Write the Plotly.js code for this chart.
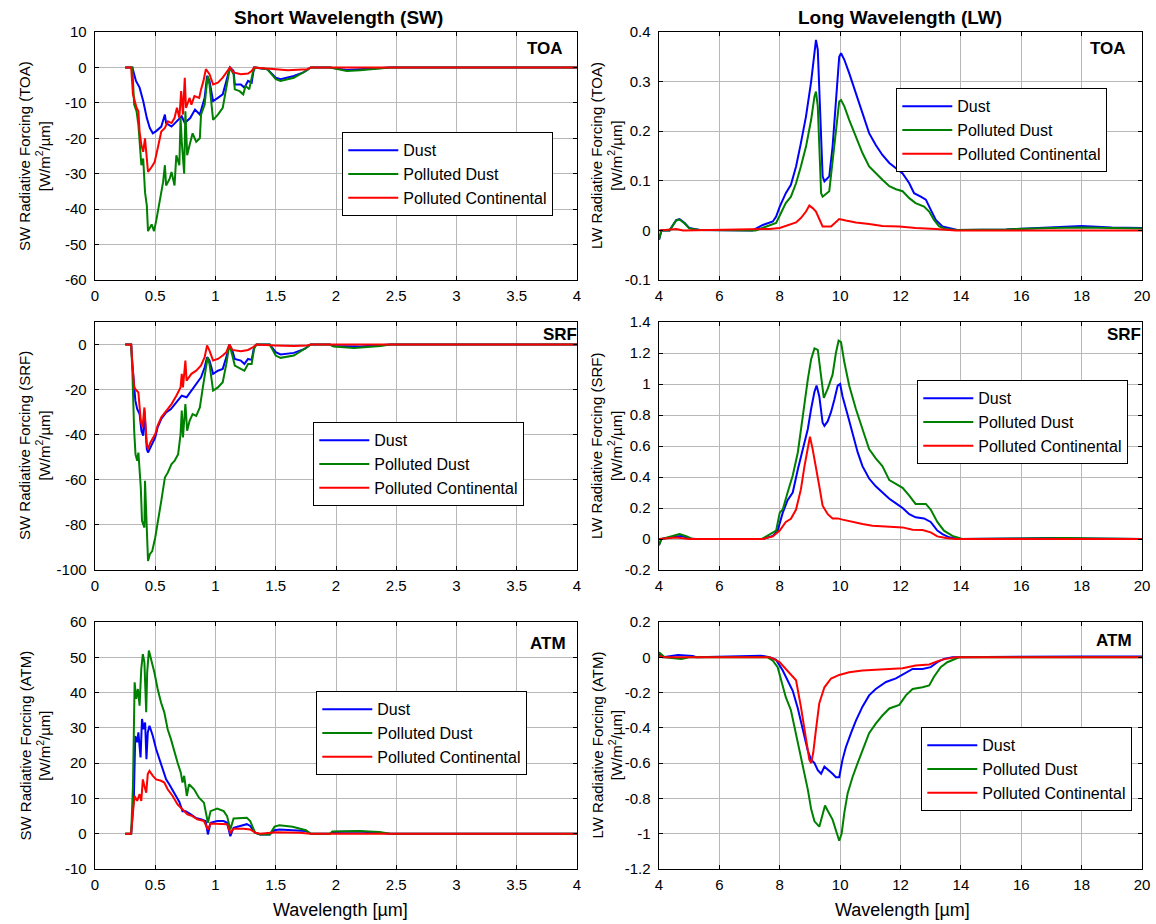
<!DOCTYPE html>
<html><head><meta charset="utf-8">
<script src="https://cdn.plot.ly/plotly-3.0.1.min.js"></script>
<style>html,body{margin:0;padding:0;background:#fff}#chart{width:1156px;height:924px}</style>
</head><body><div id="chart"></div>
<script>
// ---------- series names ----------
const seriesNames = ['Dust', 'Polluted Dust', 'Polluted Continental'];

// ---------- SW TOA ----------
const swToaDustX = [0.25,0.31,0.34,0.37,0.40,0.43,0.455,0.48,0.51,0.55,0.58,0.59,0.635,0.68,0.72,0.745,0.79,0.83,0.87,0.91,0.93,0.95,0.98,1.02,1.06,1.09,1.12,1.15,1.16,1.21,1.24,1.27,1.30,1.32,1.43,1.50,1.54,1.65,1.73,1.79,1.95,2.09,2.37,2.45,4.0];
const swToaDustY = [0,0,-3.8,-5.7,-9.5,-14.3,-17.1,-18.6,-17.9,-16.7,-13.3,-15.7,-16.7,-15.2,-13.8,-15.7,-14.3,-11.9,-13.3,-8.6,-2.4,-3.8,-9.5,-8.6,-7.6,-3.8,0,-1,-4.8,-4.8,-5.7,-3.8,-4.3,0,-0.5,-2.9,-3.3,-2.4,-1.4,0,0,-0.7,-0.2,0,0];
const swToaPdX = [0.25,0.31,0.325,0.345,0.36,0.37,0.385,0.40,0.415,0.43,0.44,0.47,0.49,0.51,0.54,0.565,0.58,0.59,0.62,0.635,0.66,0.675,0.70,0.71,0.72,0.74,0.75,0.765,0.785,0.81,0.84,0.87,0.88,0.91,0.935,0.95,0.98,1.02,1.06,1.09,1.12,1.15,1.16,1.20,1.23,1.25,1.28,1.31,1.33,1.43,1.50,1.54,1.65,1.76,1.79,1.95,2.09,2.2,2.37,2.45,4.0];
const swToaPdY = [0,0,-10.5,-12.4,-16.2,-21,-27.6,-25.7,-35.2,-39,-46.2,-44.3,-46.2,-42.9,-37.1,-32.4,-27.6,-33.3,-31.4,-29.5,-33.3,-24.8,-27.6,-14.3,-21,-30,-12.4,-24.8,-21.9,-18.6,-21,-20,-13.3,-10.5,-2.4,-4.8,-14.8,-13.3,-11.4,-5.7,0,-1.9,-6.2,-6.7,-7.6,-5.2,-6.2,-1.4,0,-0.5,-3.3,-3.8,-2.9,-0.8,0,0,-1,-0.8,-0.3,0,0];
const swToaPcX = [0.25,0.30,0.315,0.33,0.345,0.36,0.37,0.385,0.40,0.415,0.43,0.44,0.47,0.495,0.52,0.55,0.58,0.605,0.635,0.66,0.68,0.70,0.715,0.73,0.745,0.755,0.785,0.80,0.825,0.865,0.88,0.90,0.92,0.95,0.98,1.02,1.06,1.09,1.12,1.15,1.21,1.27,1.30,1.32,1.48,1.6,1.76,1.79,4.0];
const swToaPcY = [0,0,-7.6,-10,-11.4,-12.4,-18.1,-21.9,-23.8,-20,-27.1,-29.5,-28.1,-26.7,-22.9,-18.1,-17.1,-15.2,-15.7,-14.3,-11.4,-14.3,-6.7,-13.3,-2.9,-11.4,-8.6,-10.5,-8.1,-8.6,-6.2,-3.8,-0.5,-1.9,-4.8,-4.3,-2.9,-1.4,0,-1.4,-1.9,-1.7,-1,0,-0.5,-0.8,-0.5,0,0];

// ---------- LW TOA ----------
const lwToaDustX = [4.0,4.08,4.35,4.57,4.68,4.85,5.0,5.35,7.1,7.44,7.77,7.88,8.0,8.2,8.37,8.54,8.7,8.87,9.04,9.15,9.2,9.26,9.31,9.42,9.48,9.64,9.75,9.86,9.97,10.03,10.14,10.3,10.52,10.74,10.96,11.18,11.4,11.63,11.85,12.07,12.29,12.45,12.67,12.84,13.0,13.17,13.39,13.61,13.88,15.5,16.5,17.5,18.0,19.0,20.0];
const lwToaDustY = [-0.019,0,0,0.021,0.023,0.015,0.005,0.001,0,0.011,0.018,0.028,0.048,0.075,0.092,0.129,0.176,0.23,0.30,0.364,0.384,0.364,0.283,0.109,0.099,0.109,0.169,0.256,0.35,0.357,0.344,0.317,0.277,0.236,0.196,0.172,0.152,0.136,0.125,0.115,0.095,0.075,0.068,0.062,0.042,0.021,0.008,0.005,0.001,0.002,0.005,0.008,0.009,0.006,0.005];
const lwToaPdX = [4.0,4.08,4.35,4.57,4.68,4.85,5.0,5.35,7.2,7.55,7.88,8.04,8.2,8.37,8.54,8.7,8.87,9.04,9.15,9.2,9.26,9.37,9.42,9.64,9.75,9.86,9.97,10.03,10.14,10.3,10.52,10.74,10.96,11.18,11.4,11.63,11.85,12.07,12.29,12.5,12.78,12.95,13.11,13.28,13.5,13.83,15.5,17.0,18.0,20.0];
const lwToaPdY = [-0.019,0,0,0.02,0.022,0.014,0.004,0.001,0,0.008,0.015,0.035,0.055,0.068,0.095,0.129,0.169,0.223,0.27,0.28,0.25,0.075,0.068,0.079,0.136,0.203,0.26,0.263,0.25,0.223,0.189,0.156,0.129,0.115,0.102,0.089,0.083,0.079,0.065,0.055,0.048,0.038,0.021,0.008,0.003,0.001,0.002,0.005,0.006,0.004];
const lwToaPcX = [4.0,4.57,4.8,7.66,8.0,8.32,8.54,8.7,8.87,8.98,9.09,9.2,9.31,9.42,9.7,9.86,9.97,10.19,10.52,10.96,11.4,11.96,12.5,13.17,13.83,20.0];
const lwToaPcY = [0,0.003,0,0.003,0.005,0.011,0.016,0.025,0.038,0.05,0.045,0.038,0.021,0.008,0.008,0.018,0.023,0.02,0.016,0.013,0.009,0.008,0.005,0.003,0,0];

// ---------- SW SRF ----------
const swSrfDustX = [0.25,0.30,0.31,0.325,0.335,0.35,0.37,0.385,0.40,0.41,0.43,0.44,0.47,0.50,0.52,0.55,0.59,0.63,0.675,0.72,0.76,0.80,0.84,0.88,0.91,0.93,0.95,0.98,1.02,1.06,1.09,1.115,1.14,1.16,1.21,1.24,1.27,1.30,1.32,1.34,1.45,1.50,1.54,1.65,1.74,1.79,1.95,1.98,2.2,2.37,2.45,4.0];
const swSrfDustY = [0,0,-8.6,-20.4,-24.9,-28.6,-30.8,-38.2,-40.4,-29.3,-46.4,-47.9,-44.9,-41.2,-36.7,-33,-30.1,-28.6,-25.6,-22.7,-23.4,-20.4,-17.5,-14.5,-10.1,-5.6,-7.1,-13,-11.6,-10.8,-5.6,0,-2.7,-6.4,-7.1,-8.6,-6.4,-6.8,-1.2,0,0,-3.4,-4.4,-3.7,-1.9,0,0,-0.6,-0.9,-0.4,0,0];
const swSrfPdX = [0.25,0.30,0.31,0.317,0.325,0.336,0.35,0.36,0.38,0.39,0.41,0.415,0.43,0.44,0.455,0.475,0.50,0.52,0.55,0.58,0.605,0.635,0.66,0.69,0.71,0.72,0.73,0.75,0.765,0.785,0.81,0.84,0.87,0.895,0.92,0.935,0.95,0.98,1.02,1.06,1.09,1.115,1.14,1.16,1.21,1.24,1.27,1.30,1.32,1.34,1.45,1.50,1.54,1.65,1.76,1.79,1.95,1.98,2.15,2.37,2.45,4.0];
const swSrfPdY = [0,0,-11.6,-26.4,-38.2,-48.6,-51.6,-47.9,-63.4,-78.2,-81.2,-60.4,-84.1,-96,-93,-91.6,-85.6,-78.2,-69.3,-59,-56.7,-53,-51.6,-48.6,-39.7,-29.3,-41.2,-26.4,-38.2,-33.8,-30.8,-31.6,-27.9,-19,-11.6,-5.6,-8.6,-20.4,-19,-16.7,-8.6,0,-4.9,-9.3,-10.8,-11.6,-8.6,-8.6,-1.9,0,0,-4.9,-5.9,-4.9,-1.2,0,0,-0.9,-1.5,-0.7,0,0];
const swSrfPcX = [0.25,0.30,0.31,0.325,0.345,0.36,0.38,0.394,0.41,0.43,0.44,0.46,0.50,0.52,0.55,0.59,0.635,0.675,0.71,0.72,0.73,0.75,0.76,0.80,0.84,0.88,0.91,0.93,0.95,0.98,1.02,1.06,1.09,1.115,1.14,1.21,1.27,1.31,1.34,1.49,1.65,1.76,1.79,4.0];
const swSrfPcY = [0,0,-8.6,-19,-20.4,-21.2,-33.8,-36.7,-27.9,-44.1,-46.4,-43.4,-39.7,-36,-32.3,-29.3,-26.4,-22.7,-19,-13,-19,-7.1,-16,-13,-11.6,-9.3,-5.6,-0.4,-2.7,-7.1,-6.4,-4.9,-3.4,0,-2.4,-3,-2.4,-1.2,0,-0.4,-0.7,-0.4,0,0];

// ---------- LW SRF ----------
const lwSrfDustX = [4.0,4.08,4.57,4.74,5.0,5.23,7.44,7.77,7.93,8.1,8.26,8.43,8.6,8.76,8.93,9.04,9.15,9.22,9.31,9.42,9.48,9.59,9.7,9.81,9.92,10.0,10.08,10.25,10.41,10.58,10.74,10.96,11.18,11.4,11.63,11.85,12.07,12.29,12.5,12.78,13.0,13.22,13.39,13.61,13.94,16.0,17.0,18.0,20.0];
const lwSrfDustY = [-0.04,0,0.017,0.02,0.004,0,0,0.02,0.054,0.17,0.25,0.30,0.45,0.58,0.71,0.84,0.95,0.99,0.92,0.75,0.73,0.76,0.82,0.90,0.99,1.0,0.92,0.80,0.68,0.56,0.47,0.39,0.34,0.30,0.26,0.23,0.20,0.16,0.14,0.133,0.11,0.054,0.032,0.011,0,0.004,0.006,0.003,0];
const lwSrfPdX = [4.0,4.08,4.57,4.68,4.9,5.1,7.4,7.66,7.88,8.0,8.1,8.26,8.43,8.6,8.76,8.93,9.04,9.15,9.26,9.37,9.46,9.59,9.75,9.86,9.95,10.03,10.14,10.3,10.52,10.74,10.96,11.18,11.4,11.63,11.85,12.07,12.29,12.5,12.84,13.0,13.22,13.44,13.72,14.05,16.0,17.5,18.5,20.0];
const lwSrfPdY = [-0.04,0,0.026,0.032,0.018,0,0,0.032,0.054,0.17,0.19,0.30,0.41,0.56,0.80,1.03,1.16,1.23,1.22,1.03,0.91,0.97,1.06,1.2,1.28,1.27,1.14,0.99,0.84,0.71,0.58,0.52,0.47,0.38,0.355,0.33,0.28,0.226,0.226,0.19,0.11,0.054,0.02,0,0.004,0.007,0.004,0];
const lwSrfPcX = [4.0,4.57,5.0,7.44,7.77,8.0,8.2,8.37,8.54,8.7,8.82,8.93,9.0,9.09,9.2,9.31,9.42,9.59,9.75,9.92,10.08,10.41,10.74,11.07,11.4,11.74,12.07,12.4,12.73,13.0,13.22,13.5,13.83,20.0];
const lwSrfPcY = [0,0.01,0,0,0.017,0.054,0.11,0.13,0.19,0.32,0.47,0.60,0.66,0.58,0.47,0.34,0.215,0.16,0.133,0.133,0.125,0.11,0.097,0.086,0.082,0.075,0.075,0.06,0.058,0.043,0.017,0.006,0,0];

// ---------- SW ATM ----------
const swAtmDustX = [0.25,0.30,0.323,0.334,0.35,0.36,0.378,0.39,0.405,0.416,0.427,0.438,0.452,0.48,0.507,0.534,0.56,0.59,0.616,0.658,0.70,0.726,0.753,0.795,0.836,0.877,0.918,0.937,0.959,1.014,1.068,1.096,1.123,1.15,1.205,1.26,1.288,1.329,1.37,1.45,1.49,1.53,1.64,1.75,1.79,1.95,1.97,2.19,2.36,2.45,4.0];
const swAtmDustY = [0,0,10.7,27.7,25.9,28.7,21.6,32.5,29.6,31.5,21.1,28.7,30.6,27.7,24,21.1,18.3,15.4,14,11.6,9,6.4,6.4,5.5,4.5,4.1,3.6,-0.2,3.1,3.6,3.6,3.1,-0.7,1.7,2.2,2.7,2.2,0.3,-0.2,-0.2,1.0,1.2,1.0,0.8,0,0,0.5,0.6,0.3,0,0];
const swAtmPdX = [0.25,0.30,0.315,0.329,0.342,0.356,0.37,0.384,0.397,0.41,0.425,0.433,0.447,0.466,0.493,0.52,0.548,0.575,0.603,0.63,0.658,0.685,0.712,0.726,0.74,0.762,0.78,0.822,0.863,0.904,0.937,0.959,1.014,1.068,1.096,1.123,1.15,1.205,1.26,1.288,1.329,1.37,1.45,1.49,1.53,1.64,1.75,1.79,1.95,1.97,2.19,2.36,2.45,4.0];
const swAtmPdY = [0,0,13.5,42.9,38.2,41,36.3,46.7,50.9,48.6,34.4,45.7,51.9,49.5,45.7,41,37.2,34.4,29.6,26.8,23,20.2,17.3,14.5,16.4,10.7,14,12.6,10.2,8.8,3.1,6.4,7.1,6.4,5,1.2,4.3,4.5,4.5,3.6,0.3,-0.2,-0.2,2.0,2.4,2.0,1.0,0,0,0.6,0.8,0.5,0,0];
const swAtmPcX = [0.25,0.30,0.32,0.329,0.35,0.37,0.384,0.397,0.41,0.425,0.438,0.452,0.48,0.507,0.548,0.575,0.603,0.644,0.685,0.726,0.767,0.808,0.849,0.904,0.937,0.959,1.04,1.096,1.123,1.15,1.233,1.288,1.329,1.37,1.5,1.7,1.79,4.0];
const swAtmPcY = [0,0,7.9,10.7,9.3,11.2,9.3,15.4,13.5,11.6,16.9,17.8,16.4,15.4,15,14.5,12.6,10.7,8.3,6.9,5.5,5,4.1,3.6,1.2,2.9,2.9,2.7,0.3,1.4,1.4,1.2,0.3,0,0.4,0.3,0,0];

// ---------- LW ATM ----------
const lwAtmDustX = [4.0,4.13,4.63,5.12,5.23,7.38,7.66,7.88,8.1,8.26,8.43,8.6,8.76,8.93,9.04,9.15,9.26,9.37,9.48,9.59,9.75,9.86,9.97,10.08,10.19,10.36,10.52,10.74,10.96,11.18,11.52,11.85,12.07,12.4,12.73,13.0,13.22,13.44,13.72,15.5,17.0,18.0,20.0];
const lwAtmDustY = [0.019,0,0.013,0.008,0,0.009,0,-0.015,-0.075,-0.13,-0.19,-0.29,-0.41,-0.53,-0.58,-0.60,-0.64,-0.66,-0.62,-0.635,-0.66,-0.68,-0.68,-0.58,-0.51,-0.43,-0.36,-0.28,-0.216,-0.18,-0.14,-0.12,-0.10,-0.066,-0.066,-0.056,-0.028,-0.009,0,0.003,0.006,0.005,0.004];
const lwAtmPdX = [4.0,4.19,4.74,5.0,7.6,7.77,7.93,8.04,8.2,8.37,8.48,8.65,8.76,8.93,9.04,9.15,9.31,9.42,9.5,9.59,9.75,9.86,9.97,10.05,10.14,10.25,10.41,10.58,10.74,10.96,11.18,11.4,11.63,11.96,12.18,12.4,12.73,12.95,13.11,13.33,13.55,13.83,13.94,20.0];
const lwAtmPdY = [0.028,0,-0.009,0,0,-0.019,-0.056,-0.13,-0.226,-0.30,-0.39,-0.51,-0.62,-0.75,-0.86,-0.93,-0.96,-0.88,-0.84,-0.87,-0.92,-0.98,-1.04,-1.0,-0.88,-0.77,-0.68,-0.60,-0.53,-0.43,-0.376,-0.33,-0.29,-0.27,-0.216,-0.18,-0.17,-0.16,-0.11,-0.056,-0.028,-0.009,0,0];
const lwAtmPcX = [4.0,4.13,7.66,7.77,8.0,8.15,8.37,8.54,8.7,8.87,8.98,9.04,9.11,9.2,9.31,9.48,9.7,9.97,10.3,10.74,11.18,11.63,12.07,12.5,12.95,13.28,13.5,13.83,20.0];
const lwAtmPcY = [0.009,0,0,-0.006,-0.028,-0.056,-0.10,-0.13,-0.28,-0.47,-0.58,-0.60,-0.54,-0.41,-0.26,-0.17,-0.12,-0.10,-0.085,-0.075,-0.07,-0.066,-0.062,-0.047,-0.041,-0.019,-0.009,0,0];

// ---------- tick labels ----------
const swXTicks = [0,0.5,1,1.5,2,2.5,3,3.5,4];
const swXLabels = ['0','0.5','1','1.5','2','2.5','3','3.5','4'];
const lwXTicks = [4,6,8,10,12,14,16,18,20];
const lwXLabels = ['4','6','8','10','12','14','16','18','20'];
const swToaYTicks = [-60,-50,-40,-30,-20,-10,0,10];
const swToaYLabels = ['-60','-50','-40','-30','-20','-10','0','10'];
const lwToaYTicks = [-0.1,0,0.1,0.2,0.3,0.4];
const lwToaYLabels = ['-0.1','0','0.1','0.2','0.3','0.4'];
const swSrfYTicks = [-100,-80,-60,-40,-20,0];
const swSrfYLabels = ['-100','-80','-60','-40','-20','0'];
const lwSrfYTicks = [-0.2,0,0.2,0.4,0.6,0.8,1,1.2,1.4];
const lwSrfYLabels = ['-0.2','0','0.2','0.4','0.6','0.8','1','1.2','1.4'];
const swAtmYTicks = [-10,0,10,20,30,40,50,60];
const swAtmYLabels = ['-10','0','10','20','30','40','50','60'];
const lwAtmYTicks = [-1.2,-1,-0.8,-0.6,-0.4,-0.2,0,0.2];
const lwAtmYLabels = ['-1.2','-1','-0.8','-0.6','-0.4','-0.2','0','0.2'];

// ---------- build ----------
const W = 1156, H = 924;
const FONT = 'Liberation Sans, Arial, Helvetica, sans-serif';
const colors = ['#0000ff', '#008000', '#ff0000'];
const px = v => v / W;
const py = v => 1 - v / H;

const colL = [px(95), px(577)];
const colR = [px(659), px(1142)];
const rows = [[py(280), py(32)], [py(570), py(322)], [py(869), py(622)]];

const panels = [
  {series: [[swToaDustX, swToaDustY], [swToaPdX, swToaPdY], [swToaPcX, swToaPcY]], col: colL, row: 0, xr: [0, 4], yr: [-60, 10], xt: swXTicks, xl: swXLabels, yt: swToaYTicks, yl: swToaYLabels, leg: [342, 132]},
  {series: [[lwToaDustX, lwToaDustY], [lwToaPdX, lwToaPdY], [lwToaPcX, lwToaPcY]], col: colR, row: 0, xr: [4, 20], yr: [-0.1, 0.4], xt: lwXTicks, xl: lwXLabels, yt: lwToaYTicks, yl: lwToaYLabels, leg: [896, 88]},
  {series: [[swSrfDustX, swSrfDustY], [swSrfPdX, swSrfPdY], [swSrfPcX, swSrfPcY]], col: colL, row: 1, xr: [0, 4], yr: [-100, 10], xt: swXTicks, xl: swXLabels, yt: swSrfYTicks, yl: swSrfYLabels, leg: [313, 422]},
  {series: [[lwSrfDustX, lwSrfDustY], [lwSrfPdX, lwSrfPdY], [lwSrfPcX, lwSrfPcY]], col: colR, row: 1, xr: [4, 20], yr: [-0.2, 1.4], xt: lwXTicks, xl: lwXLabels, yt: lwSrfYTicks, yl: lwSrfYLabels, leg: [917, 380]},
  {series: [[swAtmDustX, swAtmDustY], [swAtmPdX, swAtmPdY], [swAtmPcX, swAtmPcY]], col: colL, row: 2, xr: [0, 4], yr: [-10, 60], xt: swXTicks, xl: swXLabels, yt: swAtmYTicks, yl: swAtmYLabels, leg: [316, 691]},
  {series: [[lwAtmDustX, lwAtmDustY], [lwAtmPdX, lwAtmPdY], [lwAtmPcX, lwAtmPcY]], col: colR, row: 2, xr: [4, 20], yr: [-1.2, 0.2], xt: lwXTicks, xl: lwXLabels, yt: lwAtmYTicks, yl: lwAtmYLabels, leg: [921, 727]}
];

const data = [];
const layout = {
  width: W, height: H, autosize: false,
  margin: {l: 0, r: 0, t: 0, b: 0},
  paper_bgcolor: '#ffffff', plot_bgcolor: '#ffffff',
  font: {family: FONT, size: 15, color: '#000000'},
  hovermode: false,
  annotations: []
};

panels.forEach((p, i) => {
  const n = i + 1;
  const xa = 'x' + (n === 1 ? '' : n), ya = 'y' + (n === 1 ? '' : n);
  const legId = 'legend' + (n === 1 ? '' : n);
  p.series.forEach((s, k) => {
    data.push({type: 'scatter', mode: 'lines', x: s[0], y: s[1], name: seriesNames[k],
      xaxis: xa, yaxis: ya, legend: legId,
      line: {color: colors[k], width: 2}});
  });
  const common = {showgrid: true, gridcolor: '#b8b8b8', gridwidth: 1, zeroline: false,
    showline: true, linecolor: '#000000', linewidth: 1.4, mirror: 'ticks',
    ticks: 'inside', ticklen: 4, tickcolor: '#000000', tickwidth: 1,
    tickmode: 'array', tickfont: {family: FONT, size: 15, color: '#000'}, fixedrange: true};
  layout['xaxis' + (n === 1 ? '' : n)] = Object.assign({}, common, {
    domain: p.col, range: p.xr, anchor: ya, tickvals: p.xt, ticktext: p.xl, ticklabelstandoff: 2});
  layout['yaxis' + (n === 1 ? '' : n)] = Object.assign({}, common, {
    domain: rows[p.row], range: p.yr, anchor: xa, tickvals: p.yt, ticktext: p.yl, ticklabelstandoff: 4});
  layout[legId] = {x: px(p.leg[0]), y: py(p.leg[1]), xanchor: 'left', yanchor: 'top',
    xref: 'paper', yref: 'paper', bgcolor: '#ffffff', bordercolor: '#000000', borderwidth: 1.3,
    font: {family: FONT, size: 16, color: '#000'}, itemwidth: 50, tracegroupgap: 0};
});

const ann = layout.annotations;
// column titles
ann.push({text: '<b>Short Wavelength (SW)</b>', x: px(338), y: py(17), xref: 'paper', yref: 'paper', xanchor: 'center', yanchor: 'middle', showarrow: false, font: {family: FONT, size: 19}});
ann.push({text: '<b>Long Wavelength (LW)</b>', x: px(900), y: py(17), xref: 'paper', yref: 'paper', xanchor: 'center', yanchor: 'middle', showarrow: false, font: {family: FONT, size: 19}});
// x titles
ann.push({text: 'Wavelength [µm]', x: px(340), y: py(910), xref: 'paper', yref: 'paper', xanchor: 'center', yanchor: 'middle', showarrow: false, font: {family: FONT, size: 18}});
ann.push({text: 'Wavelength [µm]', x: px(902), y: py(910), xref: 'paper', yref: 'paper', xanchor: 'center', yanchor: 'middle', showarrow: false, font: {family: FONT, size: 18}});
// y titles
const levels = ['TOA', 'SRF', 'ATM'];
const rowCenters = [156, 446, 745.5];
levels.forEach((lv, r) => {
  ann.push({text: 'SW Radiative Forcing (' + lv + ')<br>[W/m<sup>2</sup>/µm]', x: px(35), y: py(rowCenters[r]), xref: 'paper', yref: 'paper', xanchor: 'center', yanchor: 'middle', textangle: -90, showarrow: false, font: {family: FONT, size: 15}});
  ann.push({text: 'LW Radiative Forcing (' + lv + ')<br>[W/m<sup>2</sup>/µm]', x: px(607), y: py(rowCenters[r]), xref: 'paper', yref: 'paper', xanchor: 'center', yanchor: 'middle', textangle: -90, showarrow: false, font: {family: FONT, size: 15}});
});
// corner labels
const corner = [[545, 49, 'TOA'], [1108, 49, 'TOA'], [560, 334, 'SRF'], [1124, 334, 'SRF'], [548, 643, 'ATM'], [1114, 640, 'ATM']];
corner.forEach(c => {
  ann.push({text: '<b>' + c[2] + '</b>', x: px(c[0]), y: py(c[1]), xref: 'paper', yref: 'paper', xanchor: 'center', yanchor: 'middle', showarrow: false, font: {family: FONT, size: 17}});
});

Plotly.newPlot('chart', data, layout, {staticPlot: true, displayModeBar: false});
</script></body></html>
